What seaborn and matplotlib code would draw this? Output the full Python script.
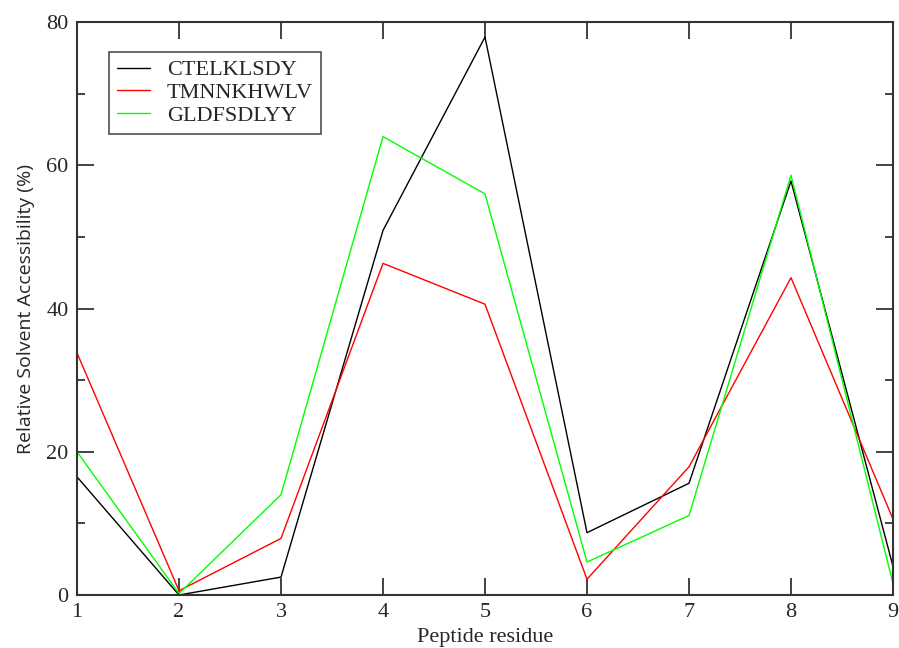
import matplotlib
matplotlib.use("Agg")
import matplotlib.pyplot as plt
import seaborn as sns
import pandas as pd
from matplotlib.ticker import MultipleLocator
from matplotlib.lines import Line2D

residues = [1, 2, 3, 4, 5, 6, 7, 8, 9]
ctelklsdy = [16.5, 0.0, 2.5, 50.9, 77.9, 8.7, 15.6, 57.8, 4.0]
tmnnkhwlv = [33.8, 0.6, 7.9, 46.3, 40.6, 2.2, 17.9, 44.3, 10.6]
gldfsdlyy = [20.0, 0.2, 14.0, 64.0, 56.0, 4.6, 11.1, 58.6, 1.6]
series_names = ["CTELKLSDY", "TMNNKHWLV", "GLDFSDLYY"]
colors = ["#000000", "#ff0000", "#00ff00"]

df = pd.concat([
    pd.DataFrame({"residue": residues, "rsa": vals, "peptide": name})
    for name, vals in zip(series_names, [ctelklsdy, tmnnkhwlv, gldfsdlyy])
])

sns.set_style("white")
plt.rcParams["font.family"] = ["Liberation Serif", "DejaVu Serif"]

fig = plt.figure(figsize=(8.99, 6.48), dpi=100)
ax = fig.add_axes([77/899, 1-595/648, (893-77)/899, (595-22)/648])

sns.lineplot(data=df, x="residue", y="rsa", hue="peptide", hue_order=series_names,
             palette=dict(zip(series_names, colors)), linewidth=1.0, ax=ax,
             legend=False)

ax.set_xlim(1, 9)
ax.set_ylim(0, 80)
ax.xaxis.set_major_locator(MultipleLocator(1))
ax.yaxis.set_major_locator(MultipleLocator(20))
ax.yaxis.set_minor_locator(MultipleLocator(10))
ax.tick_params(which="both", direction="in", top=True, right=True,
               bottom=True, left=True, color="#222222", width=1.2)
ax.tick_params(which="major", length=12, labelsize=16, pad=6)
ax.tick_params(which="minor", length=6)
for s in ax.spines.values():
    s.set_color("#333333")
    s.set_linewidth(1.5)

ax.set_xlabel("Peptide residue", fontsize=16, labelpad=4)
ax.set_ylabel("Relative Solvent Accessibility (%)", fontsize=14,
              family=["Open Sans", "DejaVu Sans"], labelpad=8)

handles = [Line2D([], [], color=c, lw=1.0) for c in colors]
leg = ax.legend(handles, series_names, loc="upper left",
                bbox_to_anchor=(109/899, 1-52/648), bbox_transform=fig.transFigure,
                fontsize=16, frameon=True, fancybox=False, borderaxespad=0,
                handlelength=1.5, handletextpad=0.75, labelspacing=0.1,
                borderpad=0.35)
leg.get_frame().set_edgecolor("#222222")
leg.get_frame().set_linewidth(1.2)

fig.savefig("out.png", dpi=100)
